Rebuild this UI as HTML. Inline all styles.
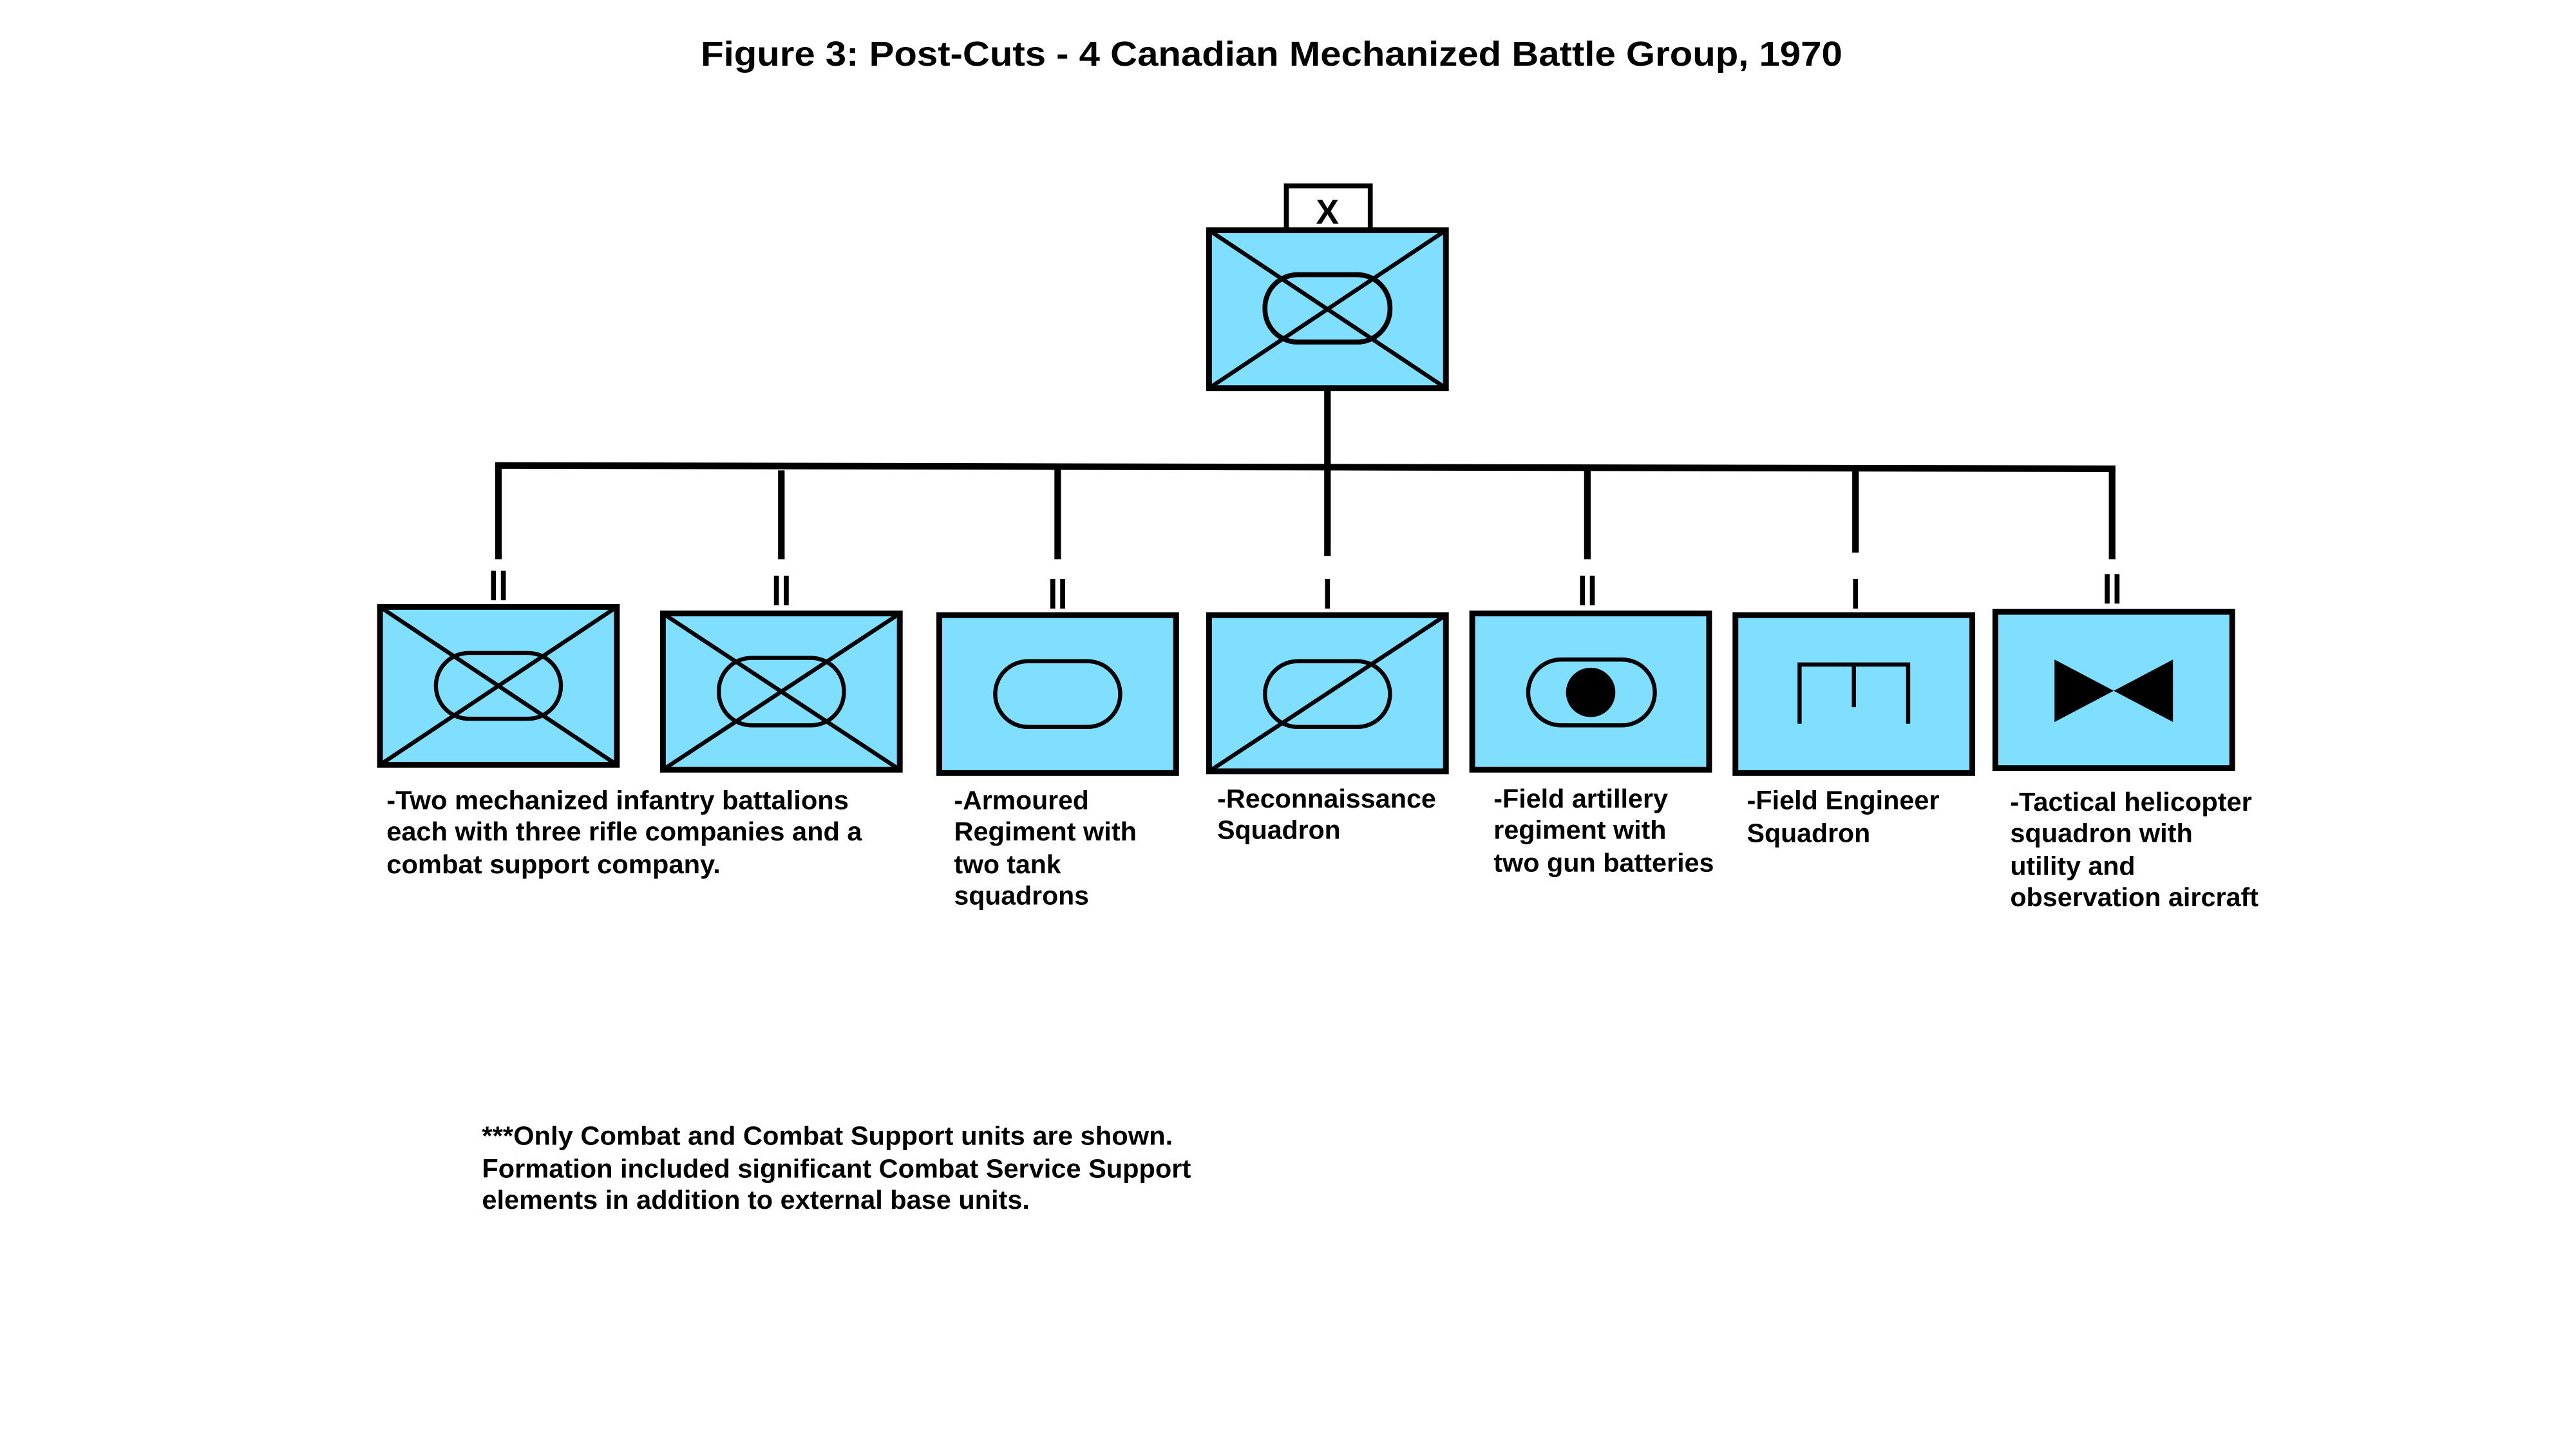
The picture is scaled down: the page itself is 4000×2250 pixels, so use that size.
<!DOCTYPE html>
<html><head><meta charset="utf-8"><style>
html,body{margin:0;padding:0;background:#fff;}
svg{display:block;}
text{font-family:"Liberation Sans",Arial,sans-serif;font-weight:bold;fill:#000;}
</style></head><body>
<svg width="4000" height="2250" viewBox="0 0 1566 881" preserveAspectRatio="none" xmlns="http://www.w3.org/2000/svg">
<rect width="1566" height="881" fill="#fff"/>
<text x="773" y="40" font-size="21" text-anchor="middle" textLength="694" lengthAdjust="spacingAndGlyphs">Figure 3: Post-Cuts - 4 Canadian Mechanized Battle Group, 1970</text>

<g stroke="#000" fill="none" stroke-linecap="butt">
<rect x="782" y="113" width="51" height="27" fill="#fff" stroke-width="3"/>
<rect x="735" y="140" width="144" height="96" fill="#80dfff" stroke-width="3.5"/>
<rect x="769" y="167" width="76" height="41" rx="20" stroke-width="3"/>
<line x1="735" y1="140" x2="879" y2="236" stroke-width="2.5"/>
<line x1="735" y1="236" x2="879" y2="140" stroke-width="2.5"/>
<line x1="807" y1="236" x2="807" y2="283" stroke-width="4"/>
<line x1="301" y1="283" x2="1286" y2="285" stroke-width="4"/>
<g stroke-width="4">
<line x1="303" y1="283" x2="303" y2="340"/>
<line x1="475" y1="286" x2="475" y2="340"/>
<line x1="643" y1="285" x2="643" y2="340"/>
<line x1="807" y1="283" x2="807" y2="338"/>
<line x1="965" y1="285" x2="965" y2="340"/>
<line x1="1128" y1="285" x2="1128" y2="336"/>
<line x1="1284" y1="285" x2="1284" y2="340"/>
</g>
<g stroke-width="3">
<line x1="300" y1="347" x2="300" y2="365"/><line x1="306" y1="347" x2="306" y2="365"/>
<line x1="472" y1="350" x2="472" y2="368"/><line x1="478" y1="350" x2="478" y2="368"/>
<line x1="640" y1="352" x2="640" y2="370"/><line x1="646" y1="352" x2="646" y2="370"/>
<line x1="807" y1="352" x2="807" y2="370"/>
<line x1="962" y1="350" x2="962" y2="368"/><line x1="968" y1="350" x2="968" y2="368"/>
<line x1="1128" y1="352" x2="1128" y2="370"/>
<line x1="1281" y1="349" x2="1281" y2="367"/><line x1="1287" y1="349" x2="1287" y2="367"/>
</g>
<g fill="#80dfff" stroke-width="3.5">
<rect x="231" y="369" width="144" height="96"/>
<rect x="403" y="373" width="144" height="95"/>
<rect x="571" y="374" width="144" height="96"/>
<rect x="735" y="374" width="144" height="95"/>
<rect x="895" y="373" width="144" height="95"/>
<rect x="1055" y="374" width="144" height="96"/>
<rect x="1213" y="372" width="144" height="95"/>
</g>
<g stroke-width="2.5">
<rect x="265" y="397" width="76" height="40" rx="20"/>
<line x1="231" y1="369" x2="375" y2="465"/><line x1="231" y1="465" x2="375" y2="369"/>
<rect x="437" y="400" width="76" height="41" rx="20"/>
<line x1="403" y1="373" x2="547" y2="468"/><line x1="403" y1="468" x2="547" y2="373"/>
<rect x="605" y="402" width="76" height="40" rx="20"/>
<rect x="769" y="402" width="76" height="40" rx="20"/>
<line x1="735" y1="469" x2="879" y2="374"/>
<rect x="929" y="401" width="77" height="40" rx="20"/>
<polyline points="1094,440 1094,404 1160,404 1160,440"/>
<line x1="1127" y1="404" x2="1127" y2="430"/>
</g>
</g>
<circle cx="967" cy="421" r="15" fill="#000"/>
<polygon points="1249,401 1285,420 1249,439" fill="#000"/>
<polygon points="1321,401 1285,420 1321,439" fill="#000"/>
<text x="807" y="136" font-size="21" text-anchor="middle">X</text>

<g font-size="16" lengthAdjust="spacingAndGlyphs">
<text x="235" y="492" textLength="281" lengthAdjust="spacingAndGlyphs">-Two mechanized infantry battalions</text>
<text x="235" y="511" textLength="289" lengthAdjust="spacingAndGlyphs">each with three rifle companies and a</text>
<text x="235" y="531" textLength="203" lengthAdjust="spacingAndGlyphs">combat support company.</text>
<text x="580" y="492" textLength="82" lengthAdjust="spacingAndGlyphs">-Armoured</text>
<text x="580" y="511" textLength="111" lengthAdjust="spacingAndGlyphs">Regiment with</text>
<text x="580" y="531" textLength="65" lengthAdjust="spacingAndGlyphs">two tank</text>
<text x="580" y="550" textLength="82" lengthAdjust="spacingAndGlyphs">squadrons</text>
<text x="740" y="491" textLength="133" lengthAdjust="spacingAndGlyphs">-Reconnaissance</text>
<text x="740" y="510" textLength="75" lengthAdjust="spacingAndGlyphs">Squadron</text>
<text x="908" y="491" textLength="106" lengthAdjust="spacingAndGlyphs">-Field artillery</text>
<text x="908" y="510" textLength="105" lengthAdjust="spacingAndGlyphs">regiment with</text>
<text x="908" y="530" textLength="134" lengthAdjust="spacingAndGlyphs">two gun batteries</text>
<text x="1062" y="492" textLength="117" lengthAdjust="spacingAndGlyphs">-Field Engineer</text>
<text x="1062" y="512" textLength="75" lengthAdjust="spacingAndGlyphs">Squadron</text>
<text x="1222" y="493" textLength="147" lengthAdjust="spacingAndGlyphs">-Tactical helicopter</text>
<text x="1222" y="512" textLength="111" lengthAdjust="spacingAndGlyphs">squadron with</text>
<text x="1222" y="532" textLength="76" lengthAdjust="spacingAndGlyphs">utility and</text>
<text x="1222" y="551" textLength="151" lengthAdjust="spacingAndGlyphs">observation aircraft</text>
<text x="293" y="696" textLength="420" lengthAdjust="spacingAndGlyphs">***Only Combat and Combat Support units are shown.</text>
<text x="293" y="716" textLength="431" lengthAdjust="spacingAndGlyphs">Formation included significant Combat Service Support</text>
<text x="293" y="735" textLength="333" lengthAdjust="spacingAndGlyphs">elements in addition to external base units.</text>
</g>
</svg>
</body></html>
